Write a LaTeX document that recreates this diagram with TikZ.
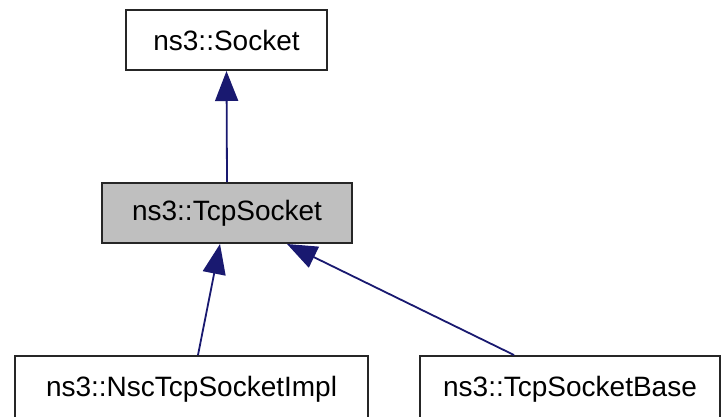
\documentclass[tikz,border=0pt]{standalone}
\usepackage{fontspec}
\setmainfont{Liberation Sans}
\usetikzlibrary{arrows.meta}
\definecolor{edgeblue}{HTML}{191970}
\definecolor{boxgray}{HTML}{BFBFBF}
\tikzset{
  cls/.style={draw=black!85, line width=2pt, fill=white, minimum height=60pt, inner sep=0pt,
    font=\fontsize{28}{34}\selectfont},
  inh/.style={draw=edgeblue, line width=1.8pt, {Triangle[length=30pt,width=23pt,fill=edgeblue]}-}
}
\begin{document}
\begin{tikzpicture}[x=1pt,y=-1pt]
\useasboundingbox (0,0) rectangle (722,416);
\node[cls, minimum width=201pt] (sock) at (226.5,40) {ns3::Socket};
\node[cls, fill=boxgray, minimum width=250pt] (tcp) at (227,213) {ns3::TcpSocket};
\node[cls, minimum width=353pt, minimum height=66pt] (nsc) at (191.5,389) {\raisebox{3pt}{ns3::NscTcpSocketImpl}};
\node[cls, minimum width=300pt, minimum height=66pt] (base) at (570,389) {\raisebox{3pt}{ns3::TcpSocketBase}};
\draw[inh] (sock.south) -- (tcp.north);
\draw[inh] ([xshift=-7pt]tcp.south) -- ([xshift=6.5pt]nsc.north);
\draw[inh] ([xshift=60pt]tcp.south) -- ([xshift=-56pt]base.north);
\end{tikzpicture}
\end{document}
